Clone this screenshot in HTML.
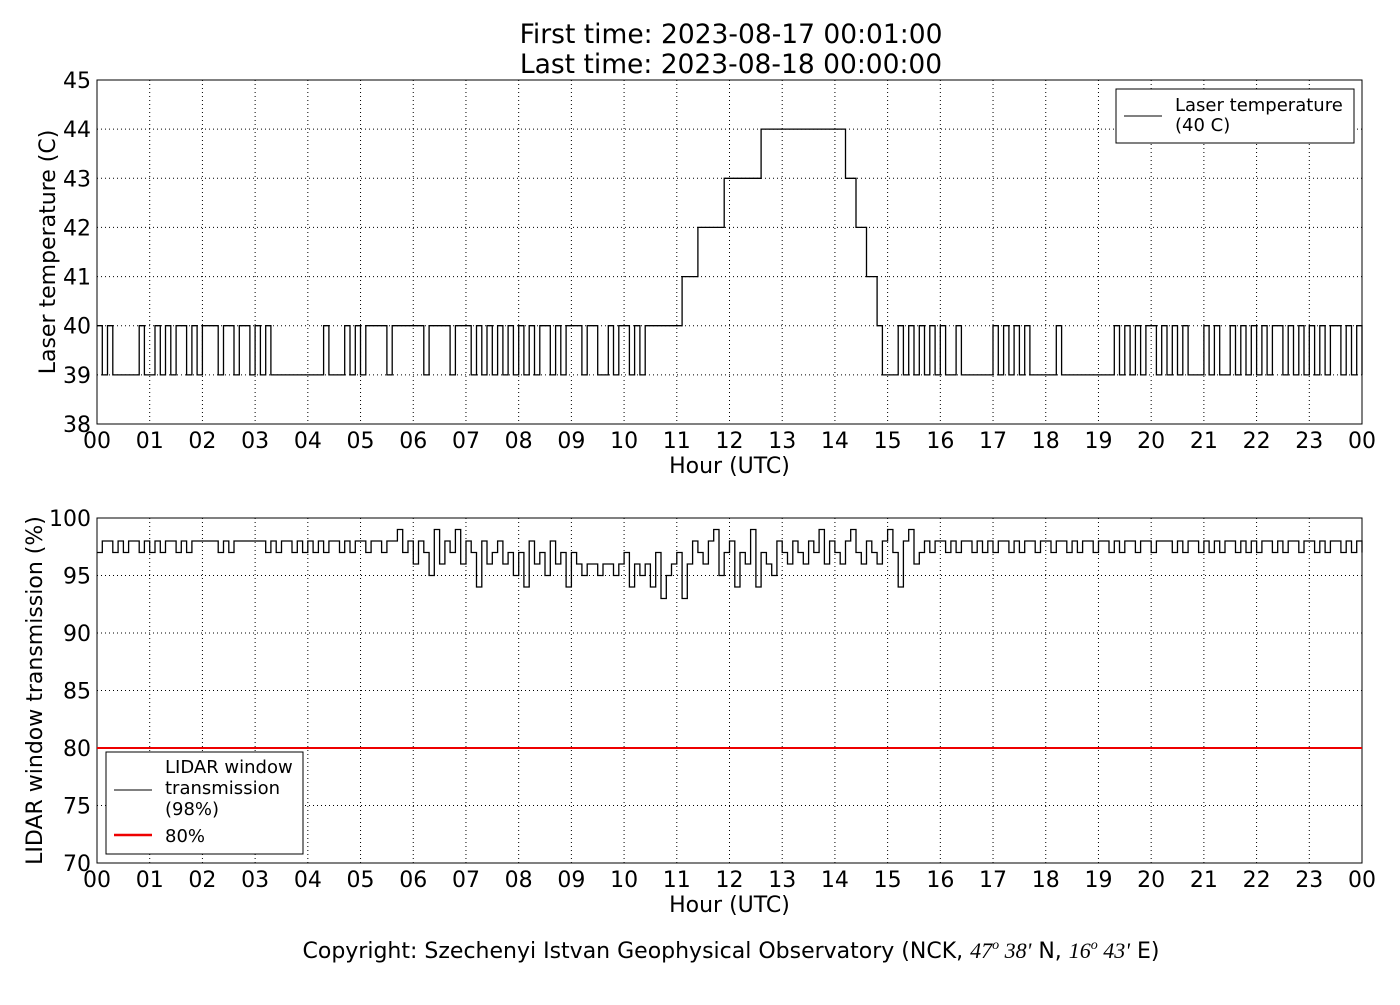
<!DOCTYPE html>
<html><head><meta charset="utf-8"><style>
body{margin:0;background:#fff;}
svg text{font-family:"DejaVu Sans","Liberation Sans",sans-serif;}
</style></head><body>
<svg id="c" width="1400" height="1000" xmlns="http://www.w3.org/2000/svg"></svg>
<script>
const hourLabels=["00","01","02","03","04","05","06","07","08","09","10","11","12","13","14","15","16","17","18","19","20","21","22","23","00"];
const tempTicks=[38,39,40,41,42,43,44,45];
const transTicks=[70,75,80,85,90,95,100];
const laserTemp=[
40,39,40,39,39,39,39,39,40,39,
39,40,39,40,39,40,40,39,40,39,
40,40,40,39,40,40,39,40,40,39,
40,39,40,39,39,39,39,39,39,39,
39,39,39,40,39,39,39,40,39,40,
39,40,40,40,40,39,40,40,40,40,
40,40,39,40,40,40,40,39,40,40,
40,39,40,39,40,39,40,39,40,39,
40,39,40,39,40,40,39,40,39,40,
40,40,39,40,40,39,39,40,39,40,
40,39,40,39,40,40,40,40,40,40,
40,41,41,41,42,42,42,42,42,43,
43,43,43,43,43,43,44,44,44,44,
44,44,44,44,44,44,44,44,44,44,
44,44,43,43,42,42,41,41,40,39,
39,39,40,39,40,39,40,39,40,39,
40,39,39,40,39,39,39,39,39,39,
40,39,40,39,40,39,40,39,39,39,
39,39,40,39,39,39,39,39,39,39,
39,39,39,40,39,40,39,40,39,40,
40,39,40,39,40,39,40,39,39,39,
40,39,40,39,39,40,39,40,39,40,
39,40,39,40,40,39,40,39,40,39,
40,39,40,39,40,40,39,40,39,40,39];
const transmission=[
97,98,98,97,98,97,98,98,97,98,
97,98,97,98,98,97,98,97,98,98,
98,98,98,97,98,97,98,98,98,98,
98,98,97,98,97,98,98,97,98,97,
98,97,98,97,98,98,97,98,97,98,
98,97,98,98,97,98,98,99,97,98,
96,98,97,95,99,96,98,97,99,96,
98,97,94,98,96,97,98,96,97,95,
97,94,98,96,97,95,98,96,97,94,
97,96,95,96,96,95,96,96,95,96,
97,94,96,95,96,94,97,93,95,96,
97,93,96,98,97,96,98,99,95,97,
98,94,97,96,99,94,97,96,95,98,
97,96,98,97,96,98,97,99,96,98,
97,96,98,99,97,96,98,97,96,98,
99,97,94,98,99,96,97,98,97,98,
98,97,98,97,98,98,97,98,97,98,
97,98,98,97,98,97,98,98,97,98,
98,97,98,98,97,98,97,98,98,97,
98,98,97,98,97,98,98,97,98,98,
97,98,98,98,97,98,97,98,98,97,
98,97,98,97,98,98,97,98,97,98,
97,98,98,97,98,97,98,98,97,98,
98,97,98,97,98,98,97,98,97,98,97];
const thresholdValue=80;

const NS="http://www.w3.org/2000/svg";
const svg=document.getElementById('c');
function el(t,a,txt){const e=document.createElementNS(NS,t);for(const k in a)e.setAttribute(k,a[k]);if(txt!==undefined)e.textContent=txt;svg.appendChild(e);return e;}
const X0=97,X1=1362;
const xs=h=>X0+(X1-X0)*h/24;

function panel(name,yTop,yBot,vmin,vmax,ticks,data,ylabel){
  const ys=v=>yBot-(v-vmin)/(vmax-vmin)*(yBot-yTop);
  for(let i=1;i<24;i++){const g=el('line',{x1:xs(i),x2:xs(i),y1:yTop,y2:yBot,stroke:'#000','stroke-width':1,'stroke-dasharray':'1,3'});
    }
  ticks.forEach((t,i)=>{
    if(i>0&&i<ticks.length-1){const g=el('line',{x1:X0,x2:X1,y1:ys(t),y2:ys(t),stroke:'#000','stroke-width':1,'stroke-dasharray':'1,3'});
      }
    const tl=el('text',{x:X0-6,y:ys(t)+8,'text-anchor':'end','font-size':22},t);
    
  });
  hourLabels.forEach((l,i)=>{
    const tl=el('text',{x:xs(i),y:yBot+24,'text-anchor':'middle','font-size':22},l);
    
  });
  let d='';const n=data.length-1;
  data.forEach((v,i)=>{const x=xs(i*24/n),y=ys(v);d+=(i===0?'M':'H')+x.toFixed(1)+(i===0?','+y.toFixed(1):' V'+y.toFixed(1));});
  const p=el('path',{d:d,fill:'none',stroke:'#000','stroke-width':1.3});
  
  const fr=el('rect',{x:X0,y:yTop,width:X1-X0,height:yBot-yTop,fill:'none',stroke:'#000','stroke-width':1});
  
  const xt=el('text',{x:(X0+X1)/2,y:yBot+49,'text-anchor':'middle','font-size':22},'Hour (UTC)');
  
  const cy=(yTop+yBot)/2;
  const yt=el('text',{x:0,y:0,'text-anchor':'middle','font-size':22,transform:`translate(${name==='top'?55:42},${cy}) rotate(-90)`},ylabel);
  
  return ys;
}
const t1=el('text',{x:731,y:43,'text-anchor':'middle','font-size':26.5},'First time: 2023-08-17 00:01:00');

const t2=el('text',{x:731,y:73,'text-anchor':'middle','font-size':26.5},'Last time: 2023-08-18 00:00:00');


panel('top',80,424,38,45,tempTicks,laserTemp,'Laser temperature (C)');
const ysB=panel('bottom',518,863,70,100,transTicks,transmission,'LIDAR window transmission (%)');
const rl=el('line',{x1:X0,x2:X1,y1:ysB(thresholdValue),y2:ysB(thresholdValue),stroke:'#e00','stroke-width':2});


let lg=el('rect',{x:1116,y:89,width:238,height:54,fill:'#fff',stroke:'#000'});

el('line',{x1:1124,x2:1162,y1:116,y2:116,stroke:'#000'});
let lt=el('text',{x:1175,y:111,'font-size':18},'Laser temperature');

el('text',{x:1175,y:131,'font-size':18},'(40 C)');

lg=el('rect',{x:106,y:752,width:197,height:102,fill:'#fff',stroke:'#000'});

el('line',{x1:114,x2:152,y1:790,y2:790,stroke:'#000'});
lt=el('text',{x:165,y:773,'font-size':18},'LIDAR window');

el('text',{x:165,y:794,'font-size':18},'transmission');
el('text',{x:165,y:815,'font-size':18},'(98%)');
el('line',{x1:114,x2:152,y1:835,y2:835,stroke:'#e00','stroke-width':2.5});
lt=el('text',{x:165,y:842,'font-size':18},'80%');


const cp=el('text',{x:731,y:958,'text-anchor':'middle','font-size':22},'');

cp.innerHTML='Copyright: Szechenyi Istvan Geophysical Observatory (NCK, <tspan font-family="Liberation Serif,serif" font-style="italic">47<tspan dy="-9" font-size="14">o</tspan><tspan dy="9">  38\'</tspan></tspan> N, <tspan font-family="Liberation Serif,serif" font-style="italic">16<tspan dy="-9" font-size="14">o</tspan><tspan dy="9">  43\'</tspan></tspan> E)';
</script>
</body></html>
